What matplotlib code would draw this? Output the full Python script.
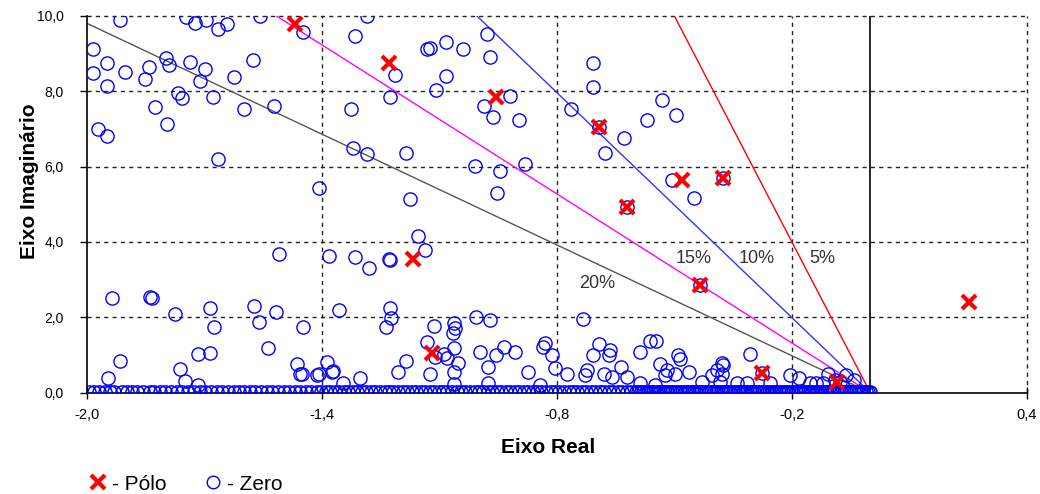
import numpy as np
import matplotlib
matplotlib.use("Agg")
import matplotlib.pyplot as plt
from matplotlib.lines import Line2D

plt.rcParams["font.family"] = ["Liberation Sans", "DejaVu Sans"]

# zeros (blue circles) away from the real axis
zero_x = [
    -1.917, -1.747, -1.724, -1.696, -1.665, -1.642, -1.558, -1.286, -1.984, -1.950,
    -1.985, -1.903, -1.841, -1.852, -1.798, -1.790, -1.737, -1.699, -1.711, -1.625,
    -1.577, -1.950, -1.769, -1.758, -1.679, -1.826, -1.599, -1.522, -1.795, -1.971,
    -1.950, -1.665, -1.409, -1.315, -1.132, -1.124, -1.213, -1.226, -1.109, -1.326,
    -1.320, -1.284, -1.185, -1.175, -1.449,
    -0.979, -1.083, -1.039, -0.971, -1.083, -0.919, -0.986, -0.964, -0.898, -1.009,
    -0.945, -0.883, -0.952, -0.709, -0.707, -0.764, -0.694, -0.630, -0.677, -0.532,
    -0.496, -0.570, -0.507, -0.451, -0.376, -0.621, -0.436,
    -1.156, -1.137, -1.228, -1.226, -1.509, -1.381, -1.315, -1.281, -1.937, -1.839,
    -1.835, -1.775, -1.686, -1.675, -1.573, -1.562, -1.517, -1.449, -1.356, -1.226,
    -1.224, -1.236, -1.114, -1.132, -1.111, -1.124, -1.916, -1.946, -1.762, -1.750,
    -1.716, -1.686, -1.716, -1.537, -1.464, -1.452, -1.409, -1.388, -1.372, -1.347,
    -1.304, -1.206, -1.185,
    -1.063, -1.060, -1.066, -1.006, -0.972, -0.734, -1.064, -1.088, -1.081, -1.052,
    -1.064, -0.996, -0.975, -0.955, -0.935, -0.907, -0.873, -0.830, -0.836, -0.813,
    -0.805, -0.775, -0.977, -1.063, -0.694, -0.664, -0.668, -0.707, -0.724, -0.728,
    -0.681, -0.660, -0.637, -0.621, -0.589, -0.562, -0.547, -0.538, -0.519, -0.524,
    -0.492, -0.487, -0.498, -0.462, -0.588, -0.430, -0.392, -0.379, -0.404, -0.383,
    -0.307, -0.375, -0.379, -0.277, -0.204, -0.183, -0.153, -0.109, -0.089, -0.061,
    -0.077, -0.043, -0.843, -0.550, -0.341, -0.315, -0.255, -0.140, -0.120, -1.375,
    -1.413, -1.456,
]
zero_y = [
    9.90, 9.97, 9.81, 9.89, 9.64, 9.77, 10.0, 10.0, 9.11, 8.75,
    8.49, 8.51, 8.65, 8.32, 8.87, 8.69, 8.78, 8.59, 8.26, 8.37,
    8.82, 8.14, 7.96, 7.83, 7.84, 7.57, 7.52, 7.60, 7.12, 7.01,
    6.82, 6.19, 5.44, 9.46, 9.11, 9.14, 8.43, 7.84, 8.03, 7.54,
    6.50, 6.33, 6.37, 5.13, 9.56,
    9.53, 9.31, 9.12, 8.90, 8.40, 7.87, 7.60, 7.32, 7.23, 6.01,
    5.88, 6.08, 5.29, 8.74, 8.10, 7.54, 7.04, 6.76, 6.37, 7.76,
    7.38, 7.23, 5.64, 5.16, 5.69, 4.93, 2.86,
    4.16, 3.79, 3.56, 3.52, 3.67, 3.63, 3.59, 3.32, 2.50, 2.55,
    2.50, 2.09, 2.26, 1.75, 2.30, 1.88, 2.15, 1.75, 2.19, 2.24,
    1.97, 1.75, 1.77, 1.35, 0.95, 0.51, 0.84, 0.40, 0.62, 0.32,
    1.03, 1.06, 0.20, 1.19, 0.76, 0.51, 0.49, 0.82, 0.58, 0.27,
    0.40, 0.54, 0.84,
    1.86, 1.71, 1.59, 2.00, 1.93, 1.95, 1.18, 1.03, 0.91, 0.78,
    0.56, 1.09, 0.69, 1.00, 1.22, 1.09, 0.54, 1.33, 1.22, 1.00,
    0.65, 0.51, 0.27, 0.23, 1.29, 1.13, 1.00, 1.00, 0.60, 0.47,
    0.51, 0.42, 0.69, 0.42, 1.09, 1.38, 1.38, 0.76, 0.60, 0.47,
    1.00, 0.89, 0.50, 0.56, 0.27, 0.29, 0.60, 0.78, 0.47, 0.29,
    1.03, 0.73, 0.51, 0.53, 0.47, 0.38, 0.27, 0.51, 0.34, 0.47,
    0.29, 0.34, 0.20, 0.20, 0.25, 0.25, 0.25, 0.25, 0.25, 0.56,
    0.47, 0.50,
]

# zeros lying on (or right above) the real axis
band_x = [
    -1.995, -1.982, -1.970, -1.955, -1.941, -1.930, -1.912, -1.898, -1.885, -1.872,
    -1.858, -1.840, -1.828, -1.815, -1.800, -1.786, -1.770, -1.757, -1.742, -1.728,
    -1.712, -1.700, -1.684, -1.668, -1.655, -1.640, -1.626, -1.612, -1.598, -1.585,
    -1.570, -1.556, -1.540, -1.528, -1.512, -1.498, -1.485, -1.470, -1.455, -1.442,
    -1.428, -1.414, -1.402,
    -1.390, -1.380, -1.368, -1.356, -1.345, -1.333, -1.322, -1.310, -1.298, -1.288,
    -1.276, -1.265, -1.252, -1.240, -1.228, -1.218, -1.205, -1.194, -1.182, -1.170,
    -1.160, -1.148, -1.136, -1.125, -1.113, -1.102, -1.090, -1.080, -1.068, -1.056,
    -1.045, -1.034, -1.022, -1.010, -1.000, -0.988, -0.976, -0.965, -0.953, -0.942,
    -0.930, -0.920, -0.908, -0.896, -0.885, -0.874, -0.862, -0.850, -0.840, -0.828,
    -0.816, -0.805, -0.794, -0.782, -0.770, -0.760, -0.748, -0.736, -0.725, -0.714,
    -0.702, -0.690, -0.680, -0.668, -0.656, -0.645, -0.634, -0.622, -0.610,
    -0.598, -0.592, -0.585, -0.580, -0.573, -0.567, -0.561, -0.555, -0.548, -0.543,
    -0.536, -0.530, -0.524, -0.518, -0.511, -0.506, -0.499, -0.493, -0.487, -0.481,
    -0.474, -0.469, -0.462, -0.456, -0.450, -0.444, -0.437, -0.432, -0.425, -0.419,
    -0.413, -0.407, -0.400, -0.395, -0.388, -0.382, -0.376, -0.370, -0.363, -0.358,
    -0.351, -0.345, -0.339, -0.333, -0.326, -0.321, -0.314, -0.308, -0.302, -0.296,
    -0.289, -0.284, -0.277, -0.271, -0.265, -0.259, -0.252, -0.247, -0.240, -0.234,
    -0.228, -0.222, -0.215, -0.210, -0.203, -0.197, -0.191, -0.185, -0.178, -0.173,
    -0.166, -0.160, -0.154, -0.148, -0.141, -0.136, -0.129, -0.123, -0.117, -0.111,
    -0.104, -0.099, -0.092, -0.086, -0.080, -0.074, -0.067, -0.062, -0.055, -0.049,
    -0.043, -0.037, -0.030, -0.025, -0.018, -0.012, -0.006, -0.002,
]
band_y = 0.02

# poles (red crosses)
pole_x = [-1.469, -1.228, -0.956, -0.694, -0.481, -0.376, -0.621, -1.167, -0.436,
          -1.120, -0.277, -0.085, 0.251]
pole_y = [9.78, 8.76, 7.85, 7.04, 5.64, 5.69, 4.93, 3.56, 2.86,
          1.06, 0.53, 0.29, 2.41]

# constant damping lines
damping = [0.05, 0.10, 0.15, 0.20]
damp_colors = ["#ff0000", "#3333ff", "#ff00ff", "#555555"]
damp_labels = ["5%", "10%", "15%", "20%"]
label_x = [-0.123, -0.289, -0.452, -0.697]
label_y = [3.55, 3.55, 3.55, 2.90]

xticks = [-2.0, -1.4, -0.8, -0.2, 0.4]
yticks = [0, 2, 4, 6, 8, 10]

fig = plt.figure(figsize=(10.4, 4.94), dpi=100)
ax = fig.add_axes([0.0837, 0.205, 0.9038, 0.763])
ax.set_xlim(-2.0, 0.4)
ax.set_ylim(0, 10)

# grid
for xv in xticks[1:]:
    ax.axvline(xv, color="#222222", lw=1.0, ls=(0, (3, 3)), zorder=1, clip_on=False)
for yv in yticks[1:]:
    ax.axhline(yv, color="#222222", lw=1.0, ls=(0, (3, 3)), zorder=1, clip_on=False)
ax.axvline(0.0, color="black", lw=1.2, zorder=1)

for z, c in zip(damping, damp_colors):
    xs = np.array([-2.0, 0.0])
    ax.plot(xs, -xs * np.sqrt(1 - z ** 2) / z, color=c, lw=1.0, zorder=2)
for t, tx, ty in zip(damp_labels, label_x, label_y):
    ax.text(tx, ty, t, fontsize=13, color="#333333", ha="center", va="center", zorder=3)

ax.plot(band_x, [band_y] * len(band_x), "o", mfc="none", mec="#0000ff", mew=1.1, ms=9.5, zorder=4)
ax.plot(zero_x, zero_y, "o", mfc="none", mec="#0000ff", mew=1.0, ms=9.5, zorder=4)
ax.plot(pole_x, pole_y, "x", color="#ff0000", mew=3.0, ms=10, zorder=5)

ax.spines["top"].set_visible(False)
ax.spines["right"].set_visible(False)
ax.spines["left"].set_linewidth(1.2)
ax.spines["bottom"].set_linewidth(1.2)
ax.set_xticks(xticks)
ax.set_yticks(yticks)
ax.set_xticklabels([f"{v:.1f}".replace(".", ",") for v in xticks], fontsize=10.5)
ax.set_yticklabels([f"{v:.1f}".replace(".", ",") for v in yticks], fontsize=10)
ax.tick_params(axis="x", direction="inout", length=8, width=1, pad=7)
ax.tick_params(axis="y", direction="out", length=5, width=1, pad=12)

ax.set_xlabel("Eixo Real", fontsize=15, fontweight="bold")
ax.set_ylabel("Eixo Imaginário", fontsize=15, fontweight="bold")
ax.xaxis.set_label_coords(0.491, -0.144)
ax.yaxis.set_label_coords(-0.061, 0.56)
ax.xaxis.label.set_va("center")
ax.yaxis.label.set_va("center")

handles = [
    Line2D([], [], ls="none", marker="x", color="#ff0000", mew=3.0, ms=10),
    Line2D([], [], ls="none", marker="o", mfc="none", mec="#0000ff", mew=1.0, ms=9),
]
fig.legend(handles, ["- Pólo", "- Zero"], loc="center left", bbox_to_anchor=(0.066, 0.02),
           ncol=2, frameon=False, fontsize=15, handlelength=1.0, handletextpad=0.2,
           columnspacing=1.7)

fig.savefig("out.png", dpi=100)
